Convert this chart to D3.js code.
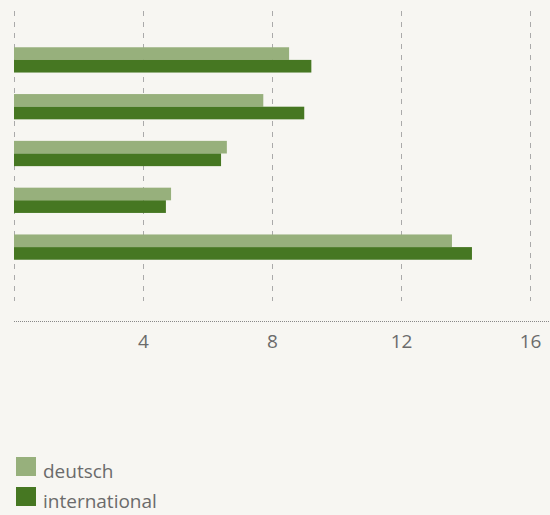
<!DOCTYPE html>
<html>
<head>
<meta charset="utf-8">
<script src="https://cdn.jsdelivr.net/npm/d3@7"></script>
<style>
  html, body { margin: 0; padding: 0; background: #f7f6f2; }
  svg { display: block; font-family: 'Open Sans', sans-serif; }
</style>
</head>
<body>
<div id="chart"></div>
<script>
const categories = ['Gruppe 1', 'Gruppe 2', 'Gruppe 3', 'Gruppe 4', 'Gruppe 5']
const series = ['deutsch', 'international']
const deutsch = [8.53, 7.73, 6.6, 4.87, 13.58]
const international = [9.22, 9.0, 6.42, 4.71, 14.2]
const xTicks = [0, 4, 8, 12, 16]
const colors = ['#97b07c', '#467722']

const width = 550
const height = 515
const values = { deutsch, international }

const svg = d3.select('#chart').append('svg')
  .attr('width', width)
  .attr('height', height)

svg.append('rect')
  .attr('width', width)
  .attr('height', height)
  .attr('fill', '#f7f6f2')

const x = d3.scaleLinear().domain([0, 16]).range([14, 530])

const y = d3.scaleBand()
  .domain(categories)
  .range([36.5, 270.5])
  .paddingInner(0.46)
  .paddingOuter(0.23)

const ySub = d3.scaleBand()
  .domain(series)
  .range([0, y.bandwidth()])

const color = d3.scaleOrdinal().domain(series).range(colors)

// gridlines
svg.append('g')
  .selectAll('line')
  .data(xTicks)
  .join('line')
  .attr('x1', d => x(d) + 0.5)
  .attr('x2', d => x(d) + 0.5)
  .attr('y1', 11)
  .attr('y2', 301)
  .attr('stroke', '#aaa')
  .attr('stroke-width', 1)
  .attr('stroke-dasharray', '5,6')

// bars
const groups = svg.append('g')
  .selectAll('g')
  .data(categories)
  .join('g')
  .attr('transform', d => `translate(0,${y(d)})`)

groups.selectAll('rect')
  .data((d, i) => series.map(s => ({ key: s, value: values[s][i] })))
  .join('rect')
  .attr('x', x(0))
  .attr('y', d => ySub(d.key))
  .attr('width', d => x(d.value) - x(0))
  .attr('height', ySub.bandwidth())
  .attr('fill', d => color(d.key))

// axis
const axis = svg.append('g')
  .attr('transform', 'translate(0,321)')
  .call(d3.axisBottom(x).tickValues(xTicks.filter(d => d > 0)).tickSize(0).tickPadding(14))

axis.select('.domain')
  .attr('d', `M${x(0)},0.5H${width}`)
  .attr('stroke', '#888')
  .attr('stroke-dasharray', '1,1')

axis.selectAll('text')
  .attr('fill', '#6b6b6b')
  .style('font-size', '19px')
  .style('font-family', "'Open Sans', sans-serif")

// legend
const legend = svg.append('g')
  .selectAll('g')
  .data(series)
  .join('g')
  .attr('transform', (_, i) => `translate(16,${457 + i * 30})`)

legend.append('rect')
  .attr('width', 20)
  .attr('height', 19)
  .attr('fill', d => color(d))

legend.append('text')
  .attr('x', 27)
  .attr('y', 21)
  .attr('fill', '#6b6b6b')
  .style('font-size', '19px')
  .text(d => d)
</script>
</body>
</html>
